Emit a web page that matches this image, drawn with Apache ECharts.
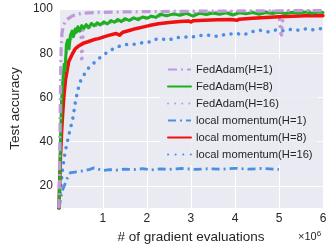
<!DOCTYPE html>
<html><head><meta charset="utf-8">
<script src="https://cdn.jsdelivr.net/npm/echarts@6/dist/echarts.min.js"></script>
<style>html,body{margin:0;padding:0;background:#fff}#c{width:332px;height:249px}</style>
</head><body><div id="c"></div>
<script>
// x values in units of 1e6 gradient evaluations
const seriesNames = ['FedAdam(H=1)','FedAdam(H=8)','FedAdam(H=16)','local momentum(H=1)','local momentum(H=8)','local momentum(H=16)'];
const xTicks = [1,2,3,4,5,6];
const yTicks = [20,40,60,80,100];

const fedAdamH1 = [[0,10],[0.01,22],[0.02,38],[0.03,55],[0.04,70],[0.05,82],[0.07,89],[0.1,92.5],[0.15,94.5],[0.22,95.8],[0.3,96.8],[0.4,97.6],[0.55,98.1],[0.8,98.4],[1.2,98.6],[2.0,98.8],[3.0,99],[4.0,99.1],[5.0,99.2],[6.0,99.3]];
const fedAdamH8 = [[0,10],[0.02,24],[0.04,44],[0.06,58],[0.08,65],[0.1,70],[0.12,75],[0.14,72],[0.17,84],[0.2,86],[0.23,82],[0.26,88],[0.3,90],[0.33,87.5],[0.37,91],[0.4,89.5],[0.43,92],[0.47,90],[0.52,92.5],[0.57,91.3],[0.62,93],[0.67,91.5],[0.74,93.5],[0.8,92.4],[0.87,93.8],[0.94,92.8],[1.02,94.2],[1.1,93.2],[1.18,94.8],[1.26,94],[1.34,95.3],[1.42,94.3],[1.5,95.7],[1.6,94.8],[1.7,96],[1.8,95.2],[1.9,96.4],[2.0,95.8],[2.1,96.8],[2.2,96.2],[2.3,97.6],[2.45,96.9],[2.6,97.8],[2.75,97.2],[2.9,98],[3.05,96.8],[3.2,98.1],[3.35,97.5],[3.5,98.2],[3.65,97.6],[3.8,98.3],[3.95,97.3],[4.1,98.3],[4.25,97.8],[4.4,98.4],[4.55,97.6],[4.7,98.4],[4.85,98],[5.0,98.5],[5.15,97.9],[5.3,98.5],[5.45,98.1],[5.6,98.6],[5.75,98.1],[5.9,98.6],[6.0,98.4]];
const fedAdamH16 = [[0,10],[0.02,20],[0.04,36],[0.06,52],[0.08,62],[0.1,68],[0.13,74],[0.16,79],[0.2,83],[0.25,86],[0.3,87.5],[0.35,88.8],[0.4,89.7],[0.45,90.3],[0.5,90.5],[0.52,76],[0.55,90.6],[0.62,91.2],[0.7,91.8],[0.8,92.4],[0.9,92.9],[1.0,93.3],[1.15,93.9],[1.3,94.4],[1.5,95],[1.7,95.5],[1.9,96],[2.1,96.5],[2.3,96.9],[2.5,97.3],[2.75,97.7],[3.0,98],[3.25,98.2],[3.5,98.4],[3.75,98.5],[4.0,98.6],[4.25,98.7],[4.5,98.8],[4.75,98.9],[5.0,99],[5.05,87],[5.1,99],[5.4,99.1],[5.7,99.1],[6.0,99.2]];
const localMomH1 = [[0,10],[0.03,13],[0.06,16],[0.09,18.5],[0.12,20],[0.15,21.5],[0.19,23.5],[0.23,25],[0.26,26],[0.33,26.2],[0.4,26.4],[0.51,26.7],[0.6,27],[0.7,27.5],[0.8,28.2],[0.9,27.6],[1.02,27],[1.15,27.4],[1.3,27.2],[1.5,27.6],[1.7,27.4],[1.9,27.8],[2.1,27.3],[2.3,27.7],[2.5,27.5],[2.8,27.9],[3.1,27.5],[3.4,27.8],[3.7,27.6],[4.0,28],[4.3,27.6],[4.6,27.9],[5.0,27.5]];
const localMomH8 = [[0,10],[0.01,17],[0.03,31],[0.065,46],[0.09,54],[0.115,61],[0.15,68],[0.22,76],[0.3,79.5],[0.37,82],[0.45,83.3],[0.55,84.5],[0.66,85.2],[0.8,86.2],[0.9,86.6],[1.02,87.4],[1.15,88.2],[1.3,88.9],[1.38,88.2],[1.45,89.5],[1.6,90.3],[1.74,91.1],[1.9,91.8],[2.05,92.5],[2.26,93.3],[2.5,93.9],[2.75,94.3],[2.95,94.6],[3.0,94.1],[3.05,94.7],[3.3,94.9],[3.6,95.1],[3.9,95.3],[4.05,94.9],[4.1,95.4],[4.4,95.8],[4.7,96.2],[5.0,96.5],[5.3,96.7],[5.6,96.9],[6.0,97]];
const localMomH16 = [[0,10],[0.02,16],[0.05,21],[0.08,27],[0.11,31.5],[0.15,36],[0.18,39],[0.21,41.6],[0.26,46],[0.3,49],[0.33,52],[0.36,56.5],[0.4,60.5],[0.44,64],[0.48,67],[0.55,69.5],[0.62,72],[0.7,74],[0.8,75.7],[0.9,77.5],[1.0,79],[1.12,80.8],[1.24,82],[1.35,83],[1.46,83.8],[1.6,84],[1.75,84.1],[1.9,84.8],[2.1,85.2],[2.2,86.3],[2.3,86.6],[2.5,86],[2.65,87],[2.83,87.4],[3.0,87.2],[3.2,88],[3.4,88.1],[3.6,87.6],[3.8,88.6],[4.04,88.9],[4.2,88.3],[4.35,89.6],[4.56,90.4],[4.75,89.7],[4.95,90.6],[5.1,90.1],[5.28,90.8],[5.45,90.4],[5.6,91],[5.75,90.6],[5.93,91.1],[6.0,91]];

const PURPLE = '#BF9ADB', GREEN = '#1DB01D', RED = '#F01010', BLUE = '#4A8FE3';
const FONT = 'Liberation Sans, Arial, sans-serif';
const TXT = '#262626';

const chart = echarts.init(document.getElementById('c'), null, {renderer: 'canvas'});
function ser(name, data, color, width, type, cap, z) {
  return {name, type: 'line', data, showSymbol: false, symbol: 'none', z,
    lineStyle: {color, width, type, cap, join: 'round'},
    itemStyle: {color}, animation: false};
}
chart.setOption({
  animation: false,
  grid: {left: 46, right: 9, top: 9, bottom: 37, show: true, backgroundColor: '#EAEAF2', borderWidth: 0},
  xAxis: {type: 'value', min: 0, max: 6, interval: 1,
    axisLine: {show: false}, axisTick: {show: false},
    splitLine: {lineStyle: {color: '#fff', width: 1}},
    axisLabel: {color: TXT, fontFamily: FONT, fontSize: 12, margin: 5,
      formatter: v => xTicks.includes(v) ? String(v) : ''},
    name: '# of gradient evaluations', nameLocation: 'middle', nameGap: 17,
    nameTextStyle: {color: TXT, fontFamily: FONT, fontSize: 13.5}},
  yAxis: {type: 'value', min: 10, max: 100,
    axisLine: {show: false}, axisTick: {show: false},
    splitLine: {lineStyle: {color: '#fff', width: 1}},
    axisLabel: {color: TXT, fontFamily: FONT, fontSize: 12, margin: 6,
      formatter: v => yTicks.includes(v) ? String(v) : ''},
    name: 'Test accuracy', nameLocation: 'middle', nameGap: 29,
    nameTextStyle: {color: TXT, fontFamily: FONT, fontSize: 13.5}},
  legend: {orient: 'vertical', left: 160, top: 59, padding: [5, 5, 5, 7],
    itemWidth: 23, itemHeight: 10, itemGap: 6,
    itemStyle: {opacity: 0},
    backgroundColor: 'rgba(234,234,242,0.85)', borderRadius: 3,
    textStyle: {color: TXT, fontFamily: FONT, fontSize: 11.2},
    data: seriesNames},
  graphic: [{type: 'text', left: 298, top: 230,
    style: {text: '×10{s|6}', fill: TXT, font: '11px ' + FONT,
      rich: {s: {fontSize: 8, verticalAlign: 'top', padding: [0,0,6,0], fill: TXT, fontFamily: FONT}}}}],
  series: [
    ser(seriesNames[2], fedAdamH16, PURPLE, 3.5, [0.1, 7], 'round', 3),
    ser(seriesNames[5], localMomH16, BLUE, 3.5, [0.1, 7.5], 'round', 3),
    ser(seriesNames[3], localMomH1, BLUE, 2.8, [8, 4, 2, 4], 'butt', 3),
    ser(seriesNames[4], localMomH8, RED, 3.5, 'solid', 'round', 4),
    ser(seriesNames[1], fedAdamH8, GREEN, 3, 'solid', 'round', 5),
    ser(seriesNames[0], fedAdamH1, PURPLE, 3.2, [9, 4, 2, 4], 'butt', 6)
  ]
});
</script></body></html>
